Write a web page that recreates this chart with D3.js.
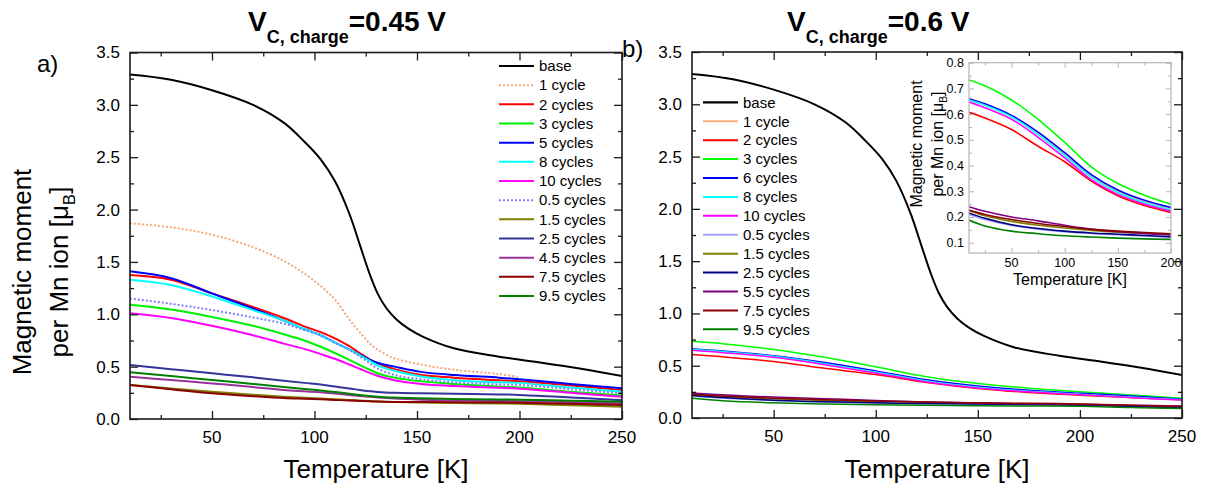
<!DOCTYPE html>
<html><head><meta charset="utf-8">
<script src="https://cdn.jsdelivr.net/npm/d3@7"></script>
<style>body{margin:0;background:#fff}svg{display:block}text{font-family:"Liberation Sans",Arial,sans-serif;fill:#000}</style>
</head><body><svg id="c" width="1206" height="488"></svg>
<script>
// ---------- data ----------
const tempsBase = [10, 30, 50, 70, 85, 95, 103, 110, 117, 122, 127, 131, 135, 140, 146, 153, 168, 190, 210, 230, 250];
const baseVals = [3.29,3.24,3.14,3.0,2.83,2.65,2.48,2.27,1.96,1.67,1.38,1.19,1.06,0.95,0.86,0.785,0.675,0.595,0.54,0.48,0.41];
const tempsA = [10, 30, 50, 70, 85, 95, 103, 110, 117, 122, 127, 131, 139, 152, 168, 190, 200, 225, 250];
const a1 = [1.87,1.83,1.76,1.64,1.51,1.39,1.27,1.14,0.95,0.83,0.72,0.66,0.58,0.52,0.47,0.43,0.40,null,null];
const a2 = [1.375,1.33,1.2,1.07,0.965,0.885,0.83,0.77,0.695,0.63,0.57,0.53,0.475,0.42,0.395,0.37,0.36,0.32,0.277];
const a3 = [1.09,1.045,0.975,0.89,0.81,0.75,0.69,0.63,0.565,0.515,0.47,0.435,0.395,0.36,0.335,0.31,0.30,0.26,0.225];
const a5 = [1.41,1.345,1.2,1.055,0.94,0.86,0.80,0.73,0.665,0.615,0.565,0.535,0.50,0.45,0.42,0.395,0.38,0.335,0.293];
const a8 = [1.33,1.28,1.17,1.04,0.94,0.86,0.80,0.73,0.665,0.61,0.555,0.51,0.46,0.405,0.37,0.35,0.345,0.30,0.26];
const a10 = [1.01,0.965,0.89,0.80,0.72,0.67,0.62,0.575,0.52,0.48,0.44,0.41,0.37,0.335,0.315,0.298,0.29,0.25,0.213];
const a05 = [1.15,1.10,1.04,0.97,0.91,0.85,0.80,0.73,0.66,0.60,0.53,0.48,0.42,0.38,0.35,0.33,0.325,0.285,0.245];
const a15 = [0.325,0.292,0.261,0.232,0.213,0.203,0.196,0.189,0.182,0.177,0.172,0.168,0.162,0.157,0.152,0.148,0.146,0.132,0.117];
const a25 = [0.516,0.476,0.436,0.398,0.366,0.345,0.33,0.31,0.292,0.278,0.266,0.258,0.25,0.245,0.24,0.235,0.23,0.205,0.18];
const a45 = [0.404,0.372,0.34,0.305,0.278,0.265,0.255,0.243,0.23,0.22,0.212,0.205,0.195,0.185,0.177,0.172,0.17,0.16,0.15];
const a75 = [0.325,0.283,0.245,0.218,0.2,0.193,0.188,0.182,0.177,0.173,0.169,0.166,0.163,0.162,0.16,0.157,0.155,0.145,0.134];
const a95 = [0.446,0.41,0.372,0.335,0.305,0.287,0.273,0.258,0.242,0.23,0.22,0.213,0.205,0.198,0.192,0.187,0.185,0.175,0.165];

const tempsB = [10, 25, 50, 75, 100, 125, 150, 175, 200, 225, 250];
const b1 = [0.655,0.637,0.593,0.527,0.445,0.36,0.30,0.258,0.23,0.205,0.178];
const b2 = [0.607,0.585,0.54,0.475,0.415,0.34,0.283,0.245,0.218,0.195,0.175];
const b3 = [0.733,0.71,0.655,0.58,0.49,0.395,0.33,0.285,0.25,0.22,0.19];
const b6 = [0.66,0.64,0.595,0.53,0.45,0.365,0.305,0.265,0.237,0.21,0.18];
const b8 = [0.655,0.635,0.59,0.52,0.44,0.355,0.295,0.255,0.228,0.20,0.175];
const b10 = [0.647,0.625,0.58,0.51,0.43,0.345,0.288,0.25,0.223,0.195,0.172];
const b05 = [0.21,0.19,0.167,0.153,0.143,0.136,0.131,0.126,0.121,0.11,0.10];
const b15 = [0.225,0.205,0.183,0.168,0.157,0.148,0.141,0.136,0.132,0.118,0.105];
const b25 = [0.216,0.195,0.17,0.155,0.145,0.138,0.133,0.128,0.123,0.11,0.095];
const b55 = [0.24,0.222,0.20,0.185,0.168,0.153,0.143,0.136,0.13,0.123,0.115];
const b75 = [0.227,0.21,0.19,0.175,0.163,0.152,0.145,0.14,0.135,0.123,0.11];
const b95 = [0.188,0.165,0.145,0.135,0.127,0.122,0.118,0.115,0.113,0.10,0.09];

const labelsA = ["base","1 cycle","2 cycles","3 cycles","5 cycles","8 cycles","10 cycles","0.5 cycles","1.5 cycles","2.5 cycles","4.5 cycles","7.5 cycles","9.5 cycles"];
const labelsB = ["base","1 cycle","2 cycles","3 cycles","6 cycles","8 cycles","10 cycles","0.5 cycles","1.5 cycles","2.5 cycles","5.5 cycles","7.5 cycles","9.5 cycles"];
const xTicksMain = [50, 100, 150, 200, 250];
const xMinorMain = [25, 75, 125, 175, 225];
const yTicksMain = [0, 0.5, 1.0, 1.5, 2.0, 2.5, 3.0, 3.5];
const yMinorMain = [0.25, 0.75, 1.25, 1.75, 2.25, 2.75, 3.25];
const xTicksInset = [50, 100, 150, 200];
const xMinorInset = [25, 75, 125, 175];
const yTicksInset = [0.1, 0.2, 0.3, 0.4, 0.5, 0.6, 0.7, 0.8];
const yMinorInset = [0.15, 0.25, 0.35, 0.45, 0.55, 0.65, 0.75];

// ---------- styles ----------
const colorsA = ["#000000","#f5a77a","#ff0000","#00ee00","#0000ff","#00ffff","#ff00ff","#7f7fff","#808000","#333399","#993399","#8b0000","#008000"];
const dashA = [null,"2,2",null,null,null,null,null,"2,2",null,null,null,null,null];
const colorsB = ["#000000","#ffb07f","#ff0000","#00ff00","#0000ff","#00ffff","#ff00ff","#a0a0ff","#808000","#000080","#800080","#8b0000","#008000"];

const svg = d3.select("#c");
const fmt1 = d3.format(".1f");

function axesBox(x, y, o) {
  const [x0, x1] = x.range(), [yb, yt] = y.range();
  const g = svg.append("g");
  const tick = (fn, sc, vals, size, tr) => g.append("g").attr("transform", tr)
    .call(fn(sc).tickValues(vals).tickSizeInner(size).tickSizeOuter(0).tickFormat(""))
    .call(s => { s.select(".domain").remove(); s.selectAll("line").attr("stroke", o.col).attr("stroke-width", o.tw); });
  [[o.xMaj, -o.maj], [o.xMin, -o.min]].forEach(([v, s]) => {
    tick(d3.axisBottom, x, v, s, `translate(0,${yb})`);
    tick(d3.axisTop, x, v, s, `translate(0,${yt})`);
  });
  [[o.yMaj, -o.maj], [o.yMin, -o.min]].forEach(([v, s]) => {
    tick(d3.axisLeft, y, v, s, `translate(${x0},0)`);
    tick(d3.axisRight, y, v, s, `translate(${x1},0)`);
  });
  g.append("rect").attr("x", x0).attr("y", yt).attr("width", x1 - x0).attr("height", yb - yt)
    .attr("fill", "none").attr("stroke", o.col).attr("stroke-width", o.fw);
  g.selectAll(".xl").data(o.xMaj).join("text").attr("x", d => x(d)).attr("y", yb + o.xdy)
    .attr("text-anchor", "middle").attr("font-size", o.fs).text(d => d);
  g.selectAll(".yl").data(o.yMaj).join("text").attr("x", x0 - o.ydx).attr("y", d => y(d) + o.fs * 0.35)
    .attr("text-anchor", "end").attr("font-size", o.fs).text(d => fmt1(d));
}

function drawLines(x, y, temps, series, colors, dashes, width, clipId) {
  const [x0, x1] = x.range(), [yb, yt] = y.range();
  svg.append("clipPath").attr("id", clipId).append("rect").attr("x", x0).attr("y", yt).attr("width", x1 - x0).attr("height", yb - yt);
  const g = svg.append("g").attr("clip-path", `url(#${clipId})`);
  const line = d3.line().defined(d => d[1] != null).x(d => x(d[0])).y(d => y(d[1])).curve(d3.curveCatmullRom.alpha(0.5));
  series.forEach((vals, i) => {
    const t = Array.isArray(temps[0]) ? temps[i] : temps;
    const pts = t.map((T, k) => [T, vals[k]]).filter(d => d[0] <= x.domain()[1] + 1e-9);
    g.append("path").attr("d", line(pts)).attr("fill", "none").attr("stroke", colors[i])
      .attr("stroke-width", Array.isArray(width) ? width[i] : width)
      .attr("stroke-dasharray", dashes ? dashes[i] : null);
  });
}

function legend(x0, y0, step, labels, colors, dashes, widths) {
  const g = svg.append("g");
  labels.forEach((lab, i) => {
    const yy = y0 + i * step;
    g.append("line").attr("x1", x0).attr("x2", x0 + 35).attr("y1", yy).attr("y2", yy)
      .attr("stroke", colors[i]).attr("stroke-width", widths[i]).attr("stroke-dasharray", dashes ? dashes[i] : null);
    g.append("text").attr("x", x0 + 40).attr("y", yy + 5.3).attr("font-size", 15).text(lab);
  });
}

function title(x0, val) {
  const t = svg.append("text").attr("x", x0).attr("y", 31).attr("font-weight", "bold").attr("font-size", 28);
  t.append("tspan").text("V");
  t.append("tspan").attr("font-size", 18).attr("dy", 12).text("C, charge");
  t.append("tspan").attr("dy", -12).text("=" + val + " V");
}

// ---------- panel a ----------
const xA = d3.scaleLinear().domain([10, 250]).range([130, 622]);
const yA = d3.scaleLinear().domain([0, 3.5]).range([419, 52.5]);
const seriesA = [baseVals, a1, a2, a3, a5, a8, a10, a05, a15, a25, a45, a75, a95];
const tempsAAll = seriesA.map((s, i) => i === 0 ? tempsBase : tempsA);
const mainOpts = {col: "#1a1a1a", tw: 1.3, fw: 1.6, maj: 8, min: 4, xMaj: xTicksMain, xMin: xMinorMain, yMaj: yTicksMain, yMin: yMinorMain, fs: 17, xdy: 24, ydx: 10};
drawLines(xA, yA, tempsAAll, seriesA, colorsA, dashA, 2, "clipA");
axesBox(xA, yA, mainOpts);
legend(499, 66, 19.17, labelsA, colorsA, dashA, labelsA.map(() => 2));

// ---------- panel b ----------
const xB = d3.scaleLinear().domain([10, 250]).range([692, 1182]);
const yB = d3.scaleLinear().domain([0, 3.5]).range([418, 52]);
const seriesB = [baseVals, b1, b2, b3, b6, b8, b10, b05, b15, b25, b55, b75, b95];
const tempsBAll = seriesB.map((s, i) => i === 0 ? tempsBase : tempsB);
const widthsB = seriesB.map((s, i) => i === 0 ? 2 : 1.5);
drawLines(xB, yB, tempsBAll, seriesB, colorsB, null, widthsB, "clipB");
axesBox(xB, yB, mainOpts);
legend(703, 102.3, 18.92, labelsB, colorsB, null, widthsB.map((w, i) => i === 0 ? 2.2 : 2));

// ---------- inset ----------
const xI = d3.scaleLinear().domain([10, 200]).range([969, 1171]);
const yI = d3.scaleLinear().domain([0.06, 0.8]).range([253, 62.7]);
svg.append("rect").attr("x", 969).attr("y", 62.7).attr("width", 202).attr("height", 190.3).attr("fill", "#fff");
drawLines(xI, yI, tempsB, seriesB.slice(1), colorsB.slice(1), null, 1.6, "clipI");
axesBox(xI, yI, {col: "#b4b4b4", tw: 1, fw: 1.2, maj: 5, min: 3, xMaj: xTicksInset, xMin: xMinorInset, yMaj: yTicksInset, yMin: yMinorInset, fs: 12.5, xdy: 14, ydx: 5});

// ---------- axis titles & panel labels ----------
title(248, "0.45");
title(787, "0.6");
svg.append("text").attr("x", 37).attr("y", 72).attr("font-size", 24).text("a)");
svg.append("text").attr("x", 622).attr("y", 57).attr("font-size", 24).text("b)");
[[376, 478, 26], [937, 478, 26], [1070, 285, 16]].forEach(([cx, by, fs]) =>
  svg.append("text").attr("x", cx).attr("y", by).attr("text-anchor", "middle").attr("font-size", fs).text("Temperature [K]"));

function yTitle(cx1, cx2, cy, fs) {
  const g = svg.append("g");
  g.append("text").attr("transform", `translate(${cx1 + fs * 0.35},${cy}) rotate(-90)`).attr("text-anchor", "middle").attr("font-size", fs).text("Magnetic moment");
  const t = g.append("text").attr("transform", `translate(${cx2 + fs * 0.35},${cy}) rotate(-90)`).attr("text-anchor", "middle").attr("font-size", fs);
  t.append("tspan").text("per Mn ion [\u03BC");
  t.append("tspan").attr("font-size", fs * 0.65).attr("dy", fs * 0.25).text("B");
  t.append("tspan").attr("dy", -fs * 0.25).text("]");
}
yTitle(22, 59, 272, 26);
yTitle(916, 937, 144, 16);
</script></body></html>
